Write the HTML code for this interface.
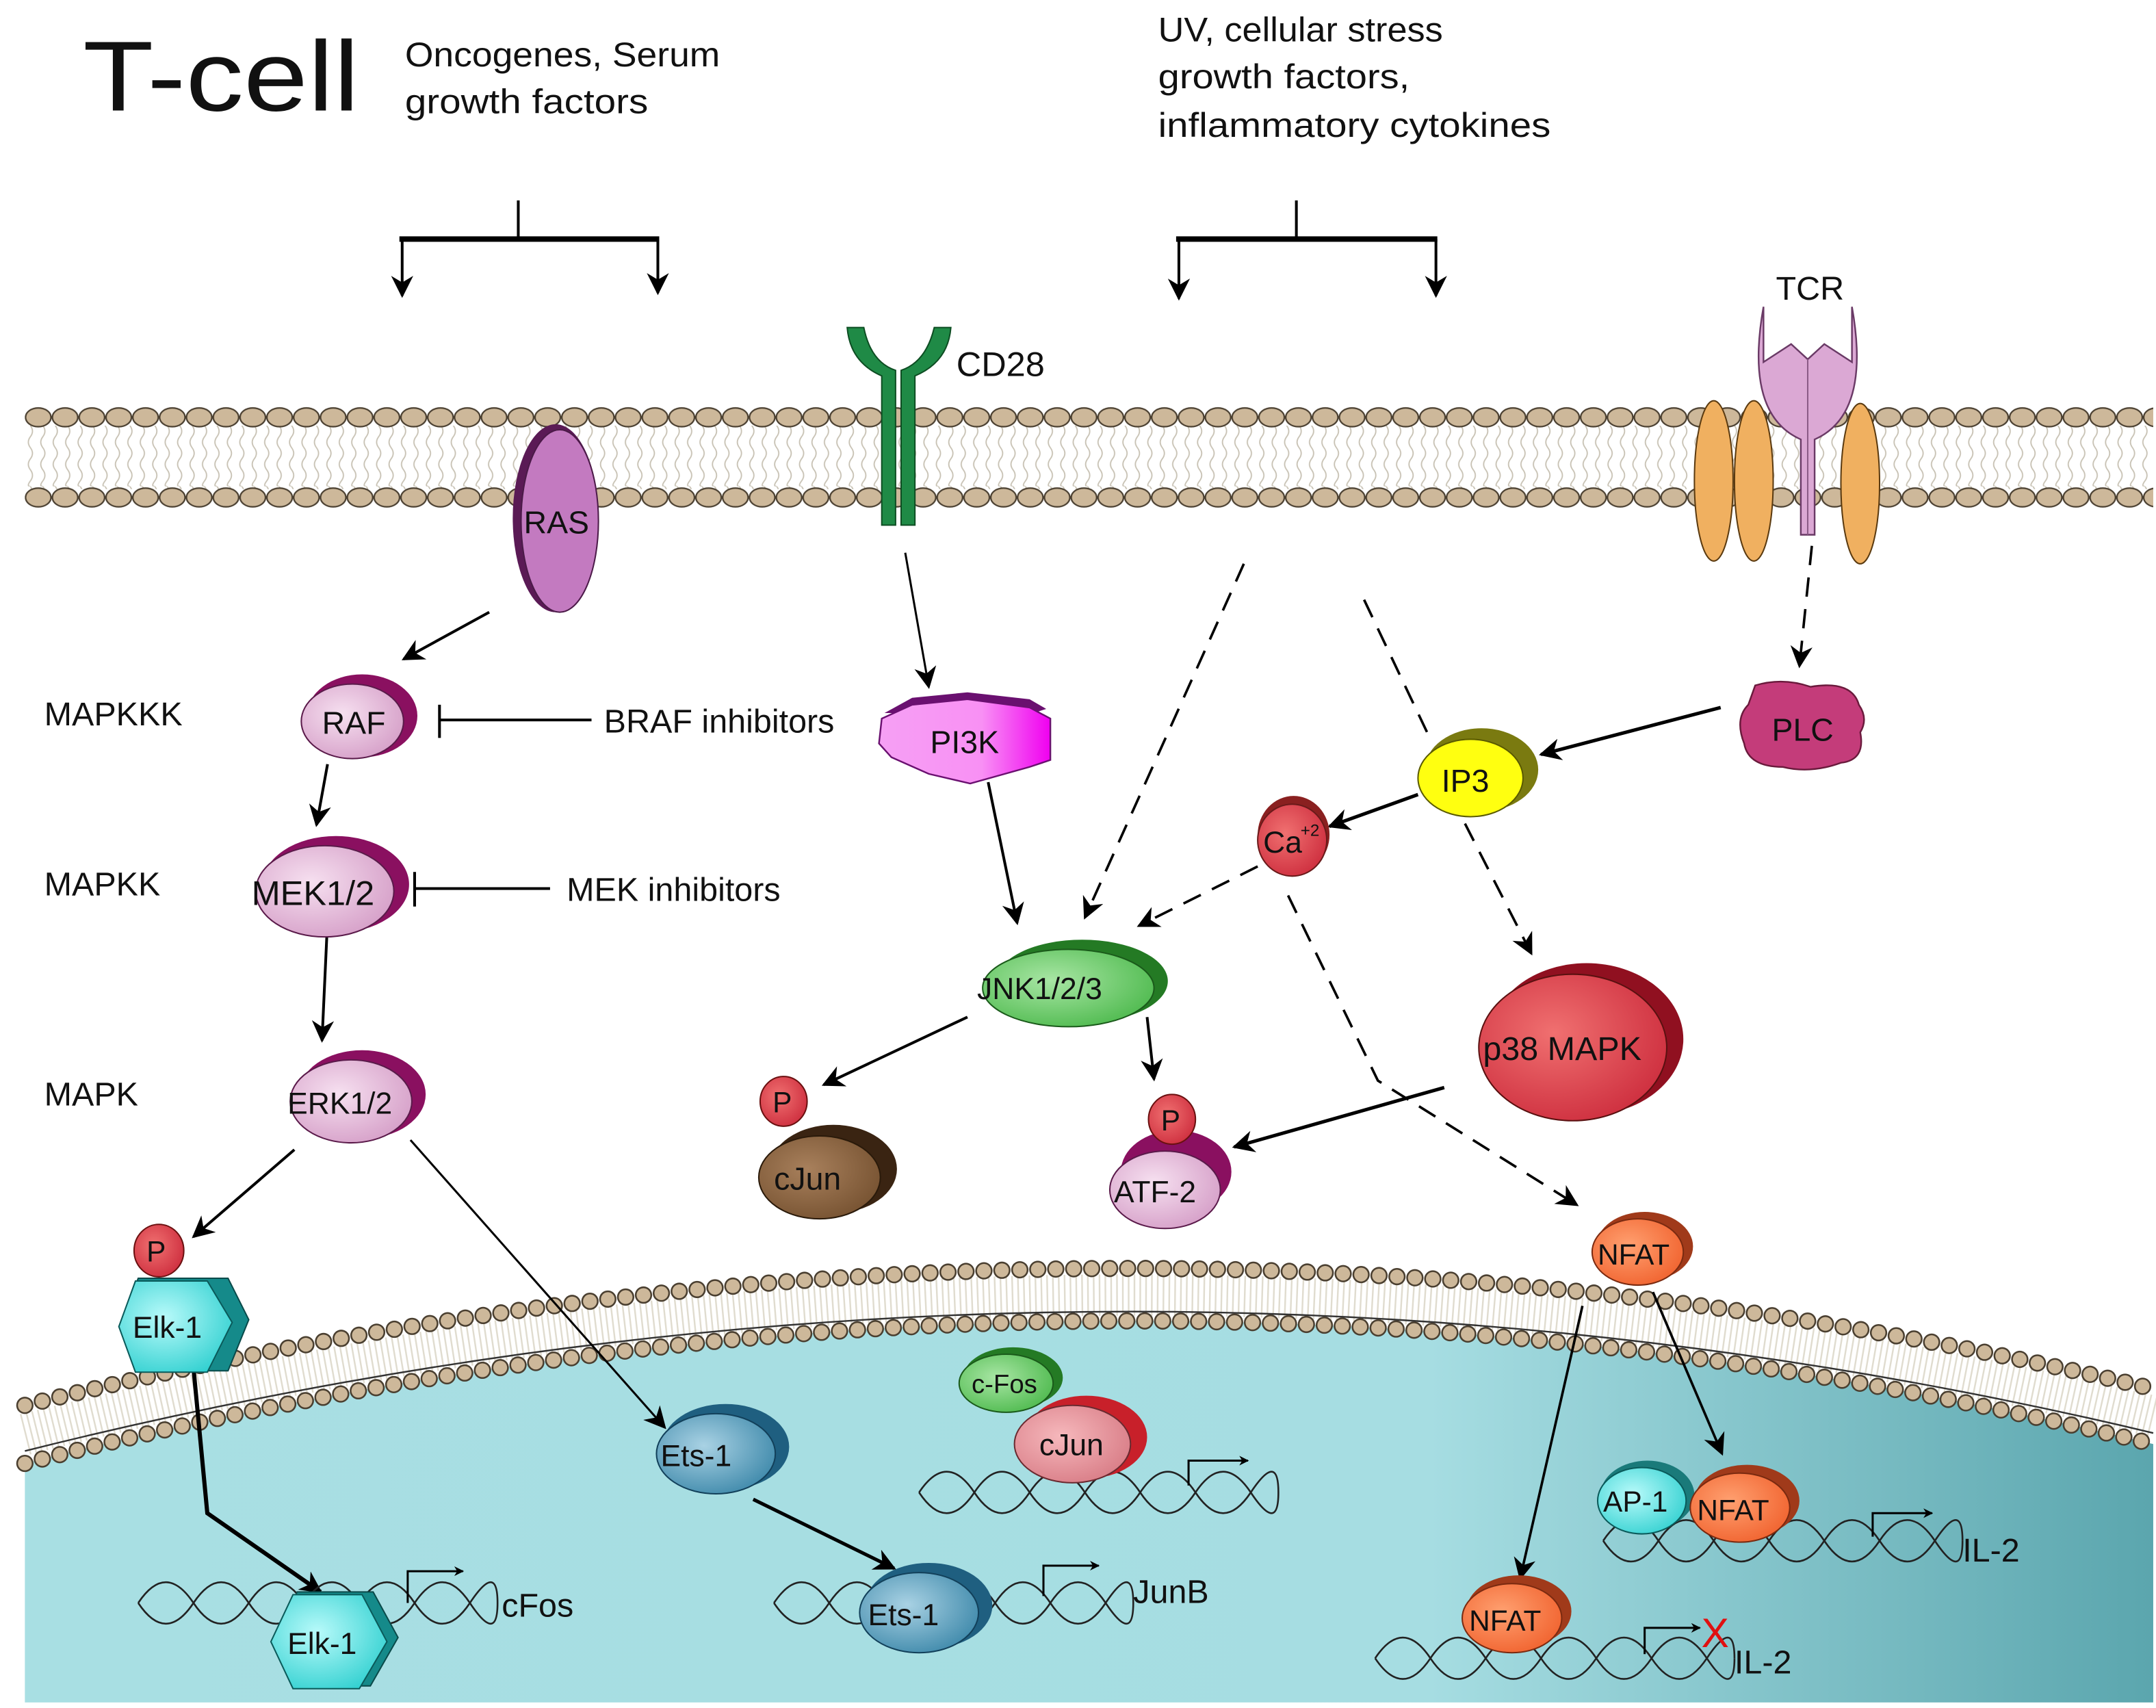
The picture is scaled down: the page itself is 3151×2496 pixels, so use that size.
<!DOCTYPE html>
<html><head><meta charset="utf-8"><style>
html,body{margin:0;padding:0;background:#fff;width:3151px;height:2496px;overflow:hidden}
svg{display:block}
text{font-family:"Liberation Sans",sans-serif;fill:#111}
</style></head><body>
<svg width="3151" height="2496" viewBox="0 0 1560 1236" preserveAspectRatio="none" xmlns="http://www.w3.org/2000/svg">
<defs>
<marker id="a" viewBox="0 0 10 10" refX="9" refY="5" markerWidth="7" markerHeight="7" orient="auto-start-reverse" markerUnits="userSpaceOnUse"><path d="M0,0 L10,5 L0,10 L3,5z" fill="#000"/></marker>
<marker id="b" viewBox="0 0 10 10" refX="9" refY="5" markerWidth="16" markerHeight="16" orient="auto" markerUnits="userSpaceOnUse"><path d="M0,0 L10,5 L0,10 L3,5z" fill="#000"/></marker>
<linearGradient id="nuc" x1="0" x2="1" y1="0" y2="0"><stop offset="0" stop-color="#a8dfe3"/><stop offset="0.66" stop-color="#a6dde2"/><stop offset="1" stop-color="#5ba6ae"/></linearGradient>
<pattern id="tails" width="9" height="44" patternUnits="userSpaceOnUse"><path d="M4,0 q3,4 0,8 q-3,4 0,8 q3,4 0,8 q-3,4 0,8 q3,4 0,8 q-3,4 0,4" fill="none" stroke="#c8c2b4" stroke-width="0.9"/></pattern>
<pattern id="heads" x="18" y="292" width="19.4" height="58" patternUnits="userSpaceOnUse"><ellipse cx="9.7" cy="10" rx="9.2" ry="6.8" fill="#cdb89a" stroke="#4a3f30" stroke-width="1.1"/></pattern>
<radialGradient id="gpink" cx="0.4" cy="0.4" r="0.7"><stop offset="0" stop-color="#f6e0f0"/><stop offset="1" stop-color="#d49cc6"/></radialGradient>
<radialGradient id="gblue" cx="0.4" cy="0.4" r="0.7"><stop offset="0" stop-color="#a9d2e4"/><stop offset="1" stop-color="#3a86a8"/></radialGradient>
<radialGradient id="ggreen" cx="0.4" cy="0.4" r="0.7"><stop offset="0" stop-color="#a8e6a4"/><stop offset="1" stop-color="#4bb84b"/></radialGradient>
<radialGradient id="gred" cx="0.4" cy="0.4" r="0.7"><stop offset="0" stop-color="#f07070"/><stop offset="1" stop-color="#cc2b3c"/></radialGradient>
<radialGradient id="gor" cx="0.4" cy="0.4" r="0.7"><stop offset="0" stop-color="#ffa070"/><stop offset="1" stop-color="#f0602c"/></radialGradient>
<radialGradient id="gjun" cx="0.4" cy="0.4" r="0.7"><stop offset="0" stop-color="#f6b8bc"/><stop offset="1" stop-color="#d77a84"/></radialGradient>
<radialGradient id="gbrown" cx="0.4" cy="0.4" r="0.7"><stop offset="0" stop-color="#a8805c"/><stop offset="1" stop-color="#74502f"/></radialGradient>
<radialGradient id="gcyan" cx="0.4" cy="0.4" r="0.7"><stop offset="0" stop-color="#b8fafa"/><stop offset="1" stop-color="#30d0d0"/></radialGradient>
<linearGradient id="gpi3k" x1="0" x2="1"><stop offset="0" stop-color="#f6a0f4"/><stop offset="0.6" stop-color="#f890f4"/><stop offset="1" stop-color="#f000f0"/></linearGradient>
</defs>

<!-- nucleus -->
<path d="M18,1059 Q796,860 1558,1045 L1558,1232 L18,1232 Z" fill="url(#nuc)"/>
<path d="M18,1038 Q796,843 1558,1025" fill="none" stroke="#e0dccf" stroke-width="30" stroke-dasharray="1.2 3"/>
<path d="M18,1050 Q796,855 1558,1037" fill="none" stroke="#333" stroke-width="1.2"/>
<path d="M18,1017 Q796,825 1558,1005" fill="none" stroke="#4a3f30" stroke-width="12.5" stroke-dasharray="0 13" stroke-linecap="round"/>
<path d="M18,1017 Q796,825 1558,1005" fill="none" stroke="#cdb89a" stroke-width="10" stroke-dasharray="0 13" stroke-linecap="round"/>
<path d="M18,1059 Q796,860 1558,1045" fill="none" stroke="#4a3f30" stroke-width="12.5" stroke-dasharray="0 13" stroke-linecap="round"/>
<path d="M18,1059 Q796,860 1558,1045" fill="none" stroke="#cdb89a" stroke-width="10" stroke-dasharray="0 13" stroke-linecap="round"/>

<!-- plasma membrane -->
<rect x="18" y="308" width="1540" height="46" fill="url(#tails)"/>
<rect x="18" y="292" width="1540" height="80" fill="url(#heads)"/>

<!-- header texts -->
<text x="60" y="80" font-size="72" textLength="200" lengthAdjust="spacingAndGlyphs">T-cell</text>
<text x="293" y="48" font-size="25" textLength="228" lengthAdjust="spacingAndGlyphs">Oncogenes, Serum</text>
<text x="293" y="82" font-size="25" textLength="176" lengthAdjust="spacingAndGlyphs">growth factors</text>
<text x="838" y="30" font-size="25" textLength="206" lengthAdjust="spacingAndGlyphs">UV, cellular stress</text>
<text x="838" y="64" font-size="25" textLength="182" lengthAdjust="spacingAndGlyphs">growth factors,</text>
<text x="838" y="99" font-size="25" textLength="284" lengthAdjust="spacingAndGlyphs">inflammatory cytokines</text>

<!-- branch arrows -->
<g stroke="#000" fill="none">
<line x1="375" y1="145" x2="375" y2="173" stroke-width="2"/>
<line x1="289" y1="173" x2="477" y2="173" stroke-width="4"/>
<line x1="291" y1="173" x2="291" y2="214" stroke-width="2" marker-end="url(#b)"/>
<line x1="476" y1="173" x2="476" y2="212" stroke-width="2" marker-end="url(#b)"/>
<line x1="938" y1="145" x2="938" y2="173" stroke-width="2"/>
<line x1="851" y1="173" x2="1040" y2="173" stroke-width="4"/>
<line x1="853" y1="173" x2="853" y2="216" stroke-width="2" marker-end="url(#b)"/>
<line x1="1039" y1="173" x2="1039" y2="214" stroke-width="2" marker-end="url(#b)"/>
</g>

<!-- CD28 -->
<path d="M613,237 L625,237 Q630,262 648,268 L648,380 L638,380 L638,272 Q615,262 613,237Z" fill="#1f8a46" stroke="#0d4d22" stroke-width="1"/>
<path d="M688,237 L676,237 Q670,262 652,268 L652,380 L662,380 L662,272 Q686,262 688,237Z" fill="#1f8a46" stroke="#0d4d22" stroke-width="1"/>
<text x="692" y="272" font-size="25">CD28</text>

<!-- TCR -->
<ellipse cx="1240" cy="348" rx="14" ry="58" fill="#f0b060" stroke="#5a3a10" stroke-width="1"/>
<ellipse cx="1269" cy="348" rx="14" ry="58" fill="#f0b060" stroke="#5a3a10" stroke-width="1"/>
<ellipse cx="1346" cy="350" rx="14" ry="58" fill="#f0b060" stroke="#5a3a10" stroke-width="1"/>
<path d="M1276,222 Q1262,300 1303,318 L1303,387 L1313,387 L1313,318 Q1354,300 1340,222 L1340,262 L1320,249 L1308,260 L1296,249 L1276,262 Z" fill="#dba8d4" stroke="#6a3a66" stroke-width="1.2"/>
<line x1="1308" y1="260" x2="1308" y2="387" stroke="#8a5a86" stroke-width="1"/>
<text x="1285" y="217" font-size="24">TCR</text>

<!-- RAS -->
<ellipse cx="402" cy="375" rx="31" ry="68" fill="#5a1a55"/>
<ellipse cx="405" cy="377" rx="28" ry="66" fill="#c37ac0" stroke="#4b1a48" stroke-width="1"/>
<text x="379" y="386" font-size="23">RAS</text>

<!-- left labels -->
<text x="32" y="525" font-size="24">MAPKKK</text>
<text x="32" y="648" font-size="24">MAPKK</text>
<text x="32" y="800" font-size="24">MAPK</text>

<!-- arrows -->
<g stroke="#000" stroke-width="2" fill="none">
<line x1="354" y1="443" x2="292" y2="477" marker-end="url(#b)"/>
<line x1="237" y1="553" x2="229" y2="597" marker-end="url(#b)"/>
<line x1="237" y1="666" x2="233" y2="753" marker-end="url(#b)"/>
<line x1="318" y1="521" x2="428" y2="521"/><line x1="318" y1="510" x2="318" y2="534"/>
<line x1="300" y1="643" x2="398" y2="643"/><line x1="300" y1="631" x2="300" y2="656"/>
<line x1="213" y1="832" x2="140" y2="895" marker-end="url(#b)"/>
<line x1="297" y1="825" x2="481" y2="1033" stroke-width="1.5" marker-end="url(#b)"/>
<polyline points="140,990 150,1095 232,1152" stroke-width="3" marker-end="url(#b)"/>
<line x1="545" y1="1085" x2="647" y2="1135" stroke-width="2.5" marker-end="url(#b)"/>
<line x1="655" y1="400" x2="672" y2="497" stroke-width="1.5" marker-end="url(#b)"/>
<line x1="715" y1="566" x2="736" y2="668" stroke-width="2" marker-end="url(#b)"/>
<line x1="700" y1="736" x2="596" y2="785" stroke-width="2" marker-end="url(#b)"/>
<line x1="830" y1="736" x2="835" y2="781" stroke-width="2" marker-end="url(#b)"/>
<line x1="1045" y1="787" x2="893" y2="830" stroke-width="2.5" marker-end="url(#b)"/>
<line x1="1245" y1="512" x2="1115" y2="546" stroke-width="2.5" marker-end="url(#b)"/>
<line x1="1026" y1="575" x2="962" y2="598" stroke-width="2.5" marker-end="url(#b)"/>
<line x1="1145" y1="945" x2="1100" y2="1142" stroke-width="1.8" marker-end="url(#b)"/>
<line x1="1196" y1="935" x2="1246" y2="1052" stroke-width="1.8" marker-end="url(#b)"/>
</g>
<g stroke="#000" stroke-width="1.8" fill="none" stroke-dasharray="14 9">
<line x1="900" y1="408" x2="785" y2="664" marker-end="url(#b)"/>
<line x1="987" y1="434" x2="1035" y2="535"/>
<line x1="1060" y1="596" x2="1108" y2="690" marker-end="url(#b)"/>
<line x1="910" y1="627" x2="824" y2="670" marker-end="url(#b)"/>
<polyline points="932,648 997,782 1141,872" marker-end="url(#b)"/>
<line x1="1311" y1="395" x2="1302" y2="482" marker-end="url(#b)"/>
</g>

<!-- RAF -->
<ellipse cx="262" cy="518" rx="40" ry="30" fill="#8a1060"/>
<ellipse cx="255" cy="522" rx="37" ry="27" fill="url(#gpink)" stroke="#5a1a4a" stroke-width="1"/>
<text x="233" y="531" font-size="23">RAF</text>
<text x="437" y="530" font-size="24">BRAF inhibitors</text>
<!-- MEK -->
<ellipse cx="243" cy="640" rx="53" ry="35" fill="#8a1060"/>
<ellipse cx="235" cy="645" rx="50" ry="33" fill="url(#gpink)" stroke="#5a1a4a" stroke-width="1"/>
<text x="182" y="655" font-size="25">MEK1/2</text>
<text x="410" y="652" font-size="24">MEK inhibitors</text>
<!-- ERK -->
<ellipse cx="262" cy="792" rx="46" ry="32" fill="#8a1060"/>
<ellipse cx="254" cy="797" rx="44" ry="30" fill="url(#gpink)" stroke="#5a1a4a" stroke-width="1"/>
<text x="208" y="806" font-size="22">ERK1/2</text>

<!-- P + Elk-1 -->
<ellipse cx="115" cy="905" rx="18" ry="19" fill="url(#gred)" stroke="#6a1010" stroke-width="1"/>
<text x="106" y="913" font-size="21">P</text>
<polygon points="100,925 165,925 180,955 165,992 100,992 88,958" fill="#158a8a" stroke="#0a4a4a"/>
<polygon points="98,927 150,927 168,957 150,993 98,993 86,960" fill="url(#gcyan)" stroke="#0a5a5a"/>
<text x="96" y="968" font-size="22">Elk-1</text>

<!-- DNA strands -->
<g fill="none" stroke="#222" stroke-width="1.3">
<path d="M100,1160 q20,-30 40,0 t40,0 t40,0 t40,0 t40,0 t40,0 t20,0"/>
<path d="M100,1160 q20,30 40,0 t40,0 t40,0 t40,0 t40,0 t40,0 t20,0"/>
<path d="M560,1160 q20,-30 40,0 t40,0 t40,0 t40,0 t40,0 t40,0 t20,0"/>
<path d="M560,1160 q20,30 40,0 t40,0 t40,0 t40,0 t40,0 t40,0 t20,0"/>
<path d="M665,1080 q20,-30 40,0 t40,0 t40,0 t40,0 t40,0 t40,0 t20,0"/>
<path d="M665,1080 q20,30 40,0 t40,0 t40,0 t40,0 t40,0 t40,0 t20,0"/>
<path d="M1160,1115 q20,-30 40,0 t40,0 t40,0 t40,0 t40,0 t40,0 t20,0"/>
<path d="M1160,1115 q20,30 40,0 t40,0 t40,0 t40,0 t40,0 t40,0 t20,0"/>
<path d="M995,1200 q20,-30 40,0 t40,0 t40,0 t40,0 t40,0 t40,0 t20,0"/>
<path d="M995,1200 q20,30 40,0 t40,0 t40,0 t40,0 t40,0 t40,0 t20,0"/>
</g>
<g fill="none" stroke="#000" stroke-width="1.5">
<polyline points="295,1160 295,1137 335,1137" marker-end="url(#a)"/>
<polyline points="755,1155 755,1133 795,1133" marker-end="url(#a)"/>
<polyline points="860,1075 860,1057 903,1057" marker-end="url(#a)"/>
<polyline points="1355,1112 1355,1095 1398,1095" marker-end="url(#a)"/>
<polyline points="1190,1197 1190,1178 1230,1178" marker-end="url(#a)"/>
</g>
<text x="363" y="1170" font-size="24">cFos</text>
<text x="820" y="1160" font-size="24">JunB</text>
<text x="1420" y="1130" font-size="24">IL-2</text>
<text x="1255" y="1211" font-size="24">IL-2</text>
<text x="1231" y="1192" font-size="30" style="fill:#e01010">X</text>

<!-- Elk-1 in nucleus -->
<polygon points="215,1152 270,1152 288,1185 268,1220 215,1220 200,1185" fill="#158a8a" stroke="#0a4a4a"/>
<polygon points="212,1154 262,1154 280,1188 260,1222 212,1222 196,1188" fill="url(#gcyan)" stroke="#0a5a5a"/>
<text x="208" y="1197" font-size="22">Elk-1</text>

<!-- Ets-1 -->
<ellipse cx="525" cy="1047" rx="46" ry="31" fill="#1f5f80"/>
<ellipse cx="518" cy="1052" rx="43" ry="29" fill="url(#gblue)" stroke="#12405a"/>
<text x="478" y="1061" font-size="22">Ets-1</text>
<ellipse cx="672" cy="1162" rx="46" ry="31" fill="#1f5f80"/>
<ellipse cx="665" cy="1167" rx="43" ry="29" fill="url(#gblue)" stroke="#12405a"/>
<text x="628" y="1176" font-size="22">Ets-1</text>

<!-- c-Fos / cJun -->
<ellipse cx="733" cy="997" rx="36" ry="22" fill="#247a24"/>
<ellipse cx="728" cy="1001" rx="34" ry="21" fill="url(#ggreen)" stroke="#1a5a1a"/>
<text x="703" y="1008" font-size="19">c-Fos</text>
<ellipse cx="786" cy="1040" rx="44" ry="30" fill="#c8202a"/>
<ellipse cx="776" cy="1045" rx="42" ry="28" fill="url(#gjun)" stroke="#6a2a30"/>
<text x="752" y="1053" font-size="22">cJun</text>

<!-- PI3K -->
<path d="M640,516 L660,505 L700,501 L745,506 L757,513 L748,516 Z" fill="#6a1070"/>
<path d="M638,520 L660,510 L700,506 L745,512 L760,520 L760,550 L745,555 L702,567 L672,560 L645,548 L636,538 Z" fill="url(#gpi3k)" stroke="#6a1070" stroke-width="1.2"/>
<text x="673" y="545" font-size="23">PI3K</text>

<!-- PLC -->
<path d="M1270,496 Q1290,490 1310,497 Q1340,492 1345,510 Q1352,520 1346,530 Q1350,550 1332,552 Q1310,560 1290,555 Q1265,555 1262,538 Q1255,520 1265,510 Z" fill="#c43c7a" stroke="#6a1a3c" stroke-width="1.2"/>
<text x="1282" y="536" font-size="23">PLC</text>

<!-- IP3 -->
<ellipse cx="1072" cy="557" rx="41" ry="30" fill="#7a7a10"/>
<ellipse cx="1064" cy="563" rx="38" ry="28" fill="#ffff10" stroke="#5a5a00"/>
<text x="1043" y="573" font-size="23">IP3</text>

<!-- Ca -->
<ellipse cx="936" cy="604" rx="26" ry="28" fill="#8a2020"/>
<ellipse cx="935" cy="608" rx="25" ry="26" fill="url(#gred)" stroke="#6a1a1a"/>
<text x="914" y="617" font-size="22">Ca</text><text x="941" y="605" font-size="12">+2</text>

<!-- JNK -->
<ellipse cx="783" cy="710" rx="62" ry="30" fill="#247a24"/>
<ellipse cx="773" cy="715" rx="62" ry="28" fill="url(#ggreen)" stroke="#1a5a1a"/>
<text x="707" y="723" font-size="22">JNK1/2/3</text>

<!-- p38 -->
<ellipse cx="1148" cy="752" rx="70" ry="55" fill="#901020"/>
<ellipse cx="1138" cy="758" rx="68" ry="53" fill="url(#gred)" stroke="#5a1010"/>
<text x="1073" y="767" font-size="24">p38 MAPK</text>

<!-- P cJun -->
<ellipse cx="567" cy="797" rx="17" ry="18" fill="url(#gred)" stroke="#6a1010"/>
<text x="559" y="805" font-size="21">P</text>
<ellipse cx="603" cy="846" rx="46" ry="32" fill="#3a2412"/>
<ellipse cx="593" cy="852" rx="44" ry="30" fill="url(#gbrown)" stroke="#2a1a0a"/>
<text x="560" y="861" font-size="23">cJun</text>

<!-- P ATF-2 -->
<ellipse cx="851" cy="848" rx="40" ry="30" fill="#8a1060"/>
<ellipse cx="843" cy="861" rx="40" ry="28" fill="url(#gpink)" stroke="#5a1a4a"/>
<ellipse cx="848" cy="810" rx="17" ry="18" fill="url(#gred)" stroke="#6a1010"/>
<text x="840" y="818" font-size="21">P</text>
<text x="806" y="870" font-size="22">ATF-2</text>

<!-- NFAT cytoplasm -->
<ellipse cx="1190" cy="902" rx="35" ry="25" fill="#a03a1a"/>
<ellipse cx="1185" cy="906" rx="33" ry="24" fill="url(#gor)" stroke="#7a2a10"/>
<text x="1156" y="915" font-size="21">NFAT</text>

<!-- AP-1 NFAT -->
<ellipse cx="1192" cy="1082" rx="34" ry="25" fill="#1a7a7a"/>
<ellipse cx="1188" cy="1086" rx="32" ry="24" fill="url(#gcyan)" stroke="#0a5a5a"/>
<text x="1160" y="1094" font-size="21">AP-1</text>
<ellipse cx="1264" cy="1086" rx="38" ry="26" fill="#a03a1a"/>
<ellipse cx="1259" cy="1091" rx="36" ry="25" fill="url(#gor)" stroke="#7a2a10"/>
<text x="1228" y="1100" font-size="21">NFAT</text>

<!-- NFAT lower -->
<ellipse cx="1099" cy="1166" rx="38" ry="26" fill="#a03a1a"/>
<ellipse cx="1094" cy="1171" rx="36" ry="25" fill="url(#gor)" stroke="#7a2a10"/>
<text x="1063" y="1180" font-size="21">NFAT</text>
</svg>
</body></html>
